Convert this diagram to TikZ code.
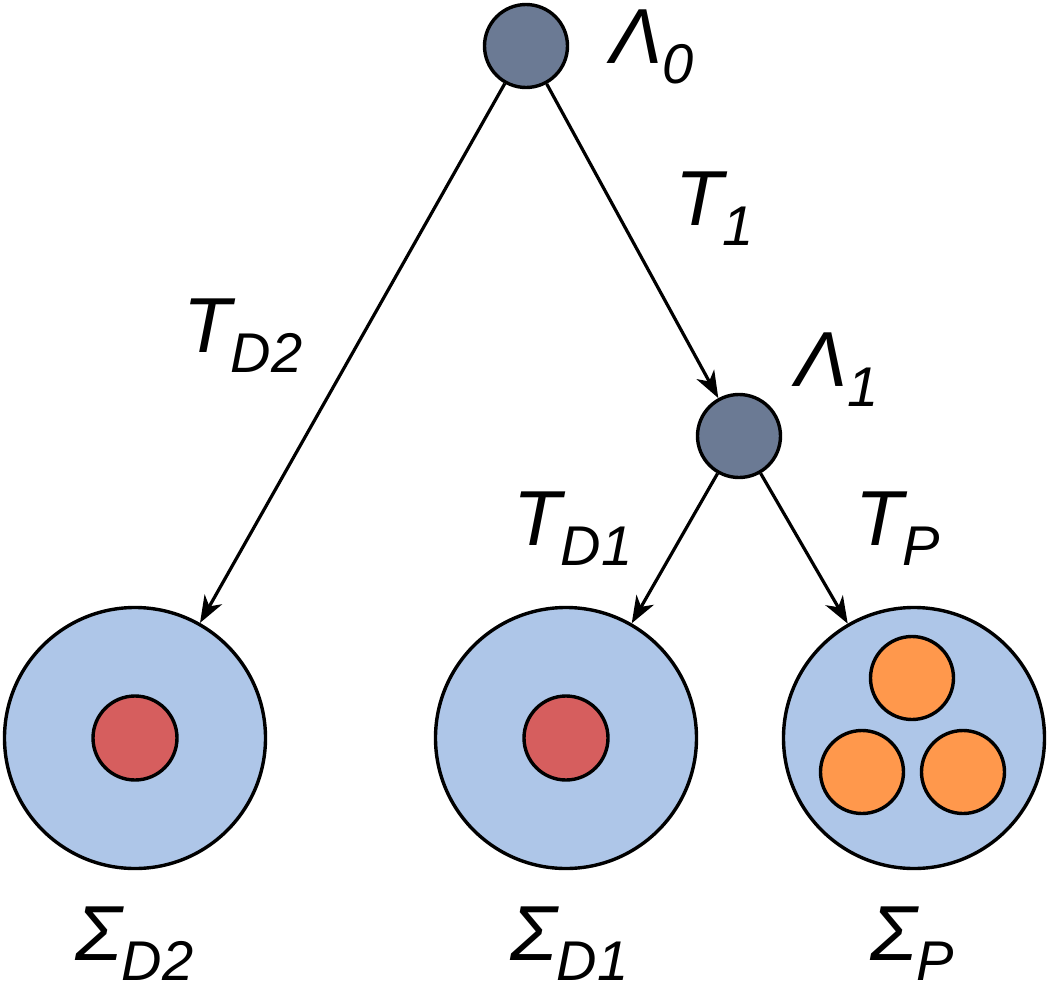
\documentclass[tikz,border=0pt]{standalone}
\usepackage{fontspec}
\setmainfont{Liberation Sans}
\usetikzlibrary{arrows.meta}
\definecolor{slate}{RGB}{107,122,148}
\definecolor{pale}{RGB}{174,198,232}
\definecolor{redc}{RGB}{214,94,94}
\definecolor{orangec}{RGB}{255,152,76}
\newcommand{\glab}[2]{\fontsize{78}{80}\selectfont\itshape #1\raisebox{-20pt}[\height][0pt]{\fontsize{56}{60}\selectfont #2}}
\tikzset{
  bubble/.style={circle, draw=black, line width=3.4pt, inner sep=0pt},
  small/.style={bubble, fill=slate, minimum size=83pt},
  big/.style={bubble, fill=pale, minimum size=261pt},
  redb/.style={bubble, fill=redc, minimum size=84pt},
  orb/.style={bubble, fill=orangec, minimum size=83pt},
  lab/.style={anchor=base west, inner sep=0pt},
  arr/.style={line width=3.2pt, -{Stealth[length=27pt,width=20pt,inset=8pt]}}
}
\begin{document}
\begin{tikzpicture}[x=1pt,y=-1pt]
\useasboundingbox (0,0) rectangle (1050,983);
\node[small] (L0) at (526,46) {};
\node[small] (L1) at (739,436) {};
\node[big] (SD2) at (135,738) {};
\node[big] (SD1) at (566,738) {};
\node[big] (SP) at (914,738) {};
\node[redb] (r1) at (135,738) {};
\node[redb] (r2) at (566,738) {};
\node[orb] (o1) at (912,678) {};
\node[orb] (o2) at (862,772) {};
\node[orb] (o3) at (963,772) {};
\draw[arr] (L0) -- (SD2);
\draw[arr] (L0) -- (L1);
\draw[arr] (L1) -- (SD1);
\draw[arr] (L1) -- (SP);
\node[lab] (tL0) at (610,63) {\glab{Λ}{0}};
\node[lab] (tT1) at (675,225) {\glab{T}{1}};
\node[lab] (tTD2) at (183,352) {\glab{T}{D2}};
\node[lab] (tL1) at (795,386) {\glab{Λ}{1}};
\node[lab] (tTD1) at (513,545) {\glab{T}{D1}};
\node[lab] (tTP) at (855,545) {\glab{T}{P}};
\node[lab] (tSD2) at (75,960) {\glab{Σ}{D2}};
\node[lab] (tSD1) at (510,960) {\glab{Σ}{D1}};
\node[lab] (tSP) at (870,960) {\glab{Σ}{P}};
\end{tikzpicture}
\end{document}
